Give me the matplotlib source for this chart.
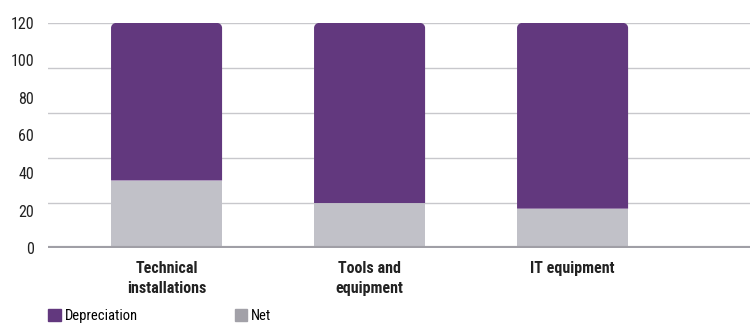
import matplotlib
matplotlib.use("Agg")
import matplotlib.pyplot as plt
from matplotlib import font_manager
from matplotlib.path import Path
from matplotlib.patches import PathPatch, Patch

fonts = font_manager.fontManager.ttflist
names = sorted({f.name for f in fonts if ("Narrow" in f.name or "Condensed" in f.name)
                and "Light" not in f.name and "Thin" not in f.name})
preferred = ["Liberation Sans Narrow", "Roboto Condensed", "Open Sans Condensed",
             "Noto Sans Condensed", "DejaVu Sans Condensed"]
family = next((n for n in preferred if n in names), names[0] if names else "DejaVu Sans")
plt.rcParams["font.family"] = [family, "DejaVu Sans"]
plt.rcParams["font.stretch"] = "condensed"

categories = ["Technical\ninstallations", "Tools and\nequipment", "IT equipment"]
net = [36, 24, 21]
depreciation = [84, 96, 99]
yticks = [0, 20, 40, 60, 80, 100, 120]
gridlines = [24, 48, 72, 96, 120]

purple = "#62387e"
grey_bar = "#c1c1c8"
grey_legend = "#a2a1a8"

fig = plt.figure(figsize=(7.5, 3.23), dpi=100)
ax = fig.add_axes([0.064, 0.232, 0.936, 0.697])

x = list(range(len(categories)))
width = 0.547
ax.bar(x, net, width=width, color=grey_bar, zorder=2)
dep_bars = ax.bar(x, depreciation, width=width, bottom=net, color=purple, zorder=2)

# give the stacked bars rounded top corners
ax.set_xlim(-0.584, 2.874)
ax.set_ylim(0, 120)
fig.canvas.draw()
px_per_x = ax.bbox.width / (ax.get_xlim()[1] - ax.get_xlim()[0])
px_per_y = ax.bbox.height / (ax.get_ylim()[1] - ax.get_ylim()[0])
r_px = 5
rx, ry = r_px / px_per_x, r_px / px_per_y
k = 0.5523
for rect in dep_bars.patches:
    x0, y0 = rect.get_x(), rect.get_y()
    x1, y1 = x0 + rect.get_width(), y0 + rect.get_height()
    verts = [
        (x0, y0), (x1, y0), (x1, y1 - ry),
        (x1, y1 - ry + k * ry), (x1 - rx + k * rx, y1), (x1 - rx, y1),
        (x0 + rx, y1),
        (x0 + rx - k * rx, y1), (x0, y1 - ry + k * ry), (x0, y1 - ry),
        (x0, y0),
    ]
    codes = [Path.MOVETO, Path.LINETO, Path.LINETO,
             Path.CURVE4, Path.CURVE4, Path.CURVE4,
             Path.LINETO,
             Path.CURVE4, Path.CURVE4, Path.CURVE4,
             Path.CLOSEPOLY]
    rect.set_visible(False)
    ax.add_patch(PathPatch(Path(verts, codes), facecolor=purple, edgecolor="none", zorder=2))

for g in gridlines:
    ax.axhline(g, color="#c8c8cc", lw=1.0, zorder=1)
ax.axhline(0, color="#a09fa6", lw=3, zorder=3)

for s in ax.spines.values():
    s.set_visible(False)
ax.set_yticks(yticks)
ax.set_yticklabels([str(v) for v in yticks], fontsize=11.5, color="#222222")
ax.tick_params(axis="y", length=0, pad=10)
ax.set_xticks(x)
ax.set_xticklabels(categories, fontsize=11.5, fontweight="bold", color="#222222", linespacing=1.45)
ax.tick_params(axis="x", length=0, pad=9)

handles = [Patch(color=purple, label="Depreciation"), Patch(color=grey_legend, label="Net")]
fig.legend(handles=handles, loc="lower left", bbox_to_anchor=(0.047, -0.04), ncol=2,
           frameon=False, fontsize=10.5, handlelength=0.85, handleheight=0.85,
           handletextpad=0.3, columnspacing=6.6)

fig.savefig("out.png", dpi=100)
